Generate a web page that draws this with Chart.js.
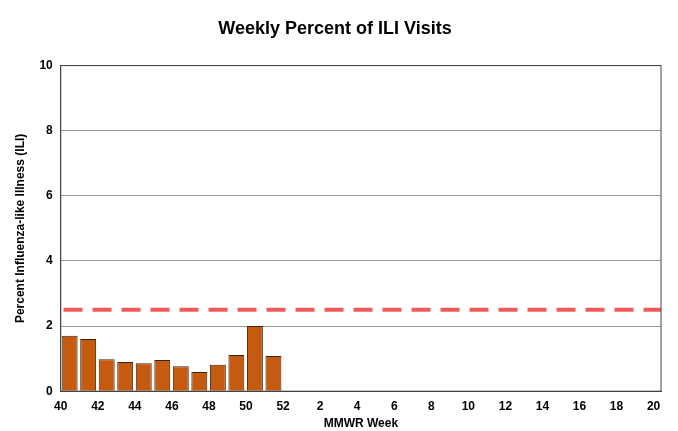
<!DOCTYPE html>
<html lang="en">
  <head>
    <meta charset="UTF-8" />
    <title>Weekly Percent of ILI Visits</title>
    <script src="https://cdn.jsdelivr.net/npm/chart.js"></script>
    <style>
      body { margin: 0; background: #fff; }
      #wrap { width: 678px; height: 431px; }
    </style>
  </head>
  <body>
    <div id="wrap"><canvas id="iliChart"></canvas></div>
    <script>
      // MMWR weeks 40-52, then 1-20
      const weeks = [40, 41, 42, 43, 44, 45, 46, 47, 48, 49, 50, 51, 52,
        1, 2, 3, 4, 5, 6, 7, 8, 9, 10, 11, 12, 13, 14, 15, 16, 17, 18, 19, 20];
      const iliPercent = [1.70, 1.60, 0.98, 0.90, 0.86, 0.96, 0.77, 0.59, 0.81, 1.11, 2.00, 1.08];
      const baseline = 2.5;

      const barPoints = iliPercent.map((v, i) => ({ x: i + 0.48, y: v }));

      new Chart(document.getElementById("iliChart"), {
        type: "bar",
        data: {
          datasets: [
            {
              type: "line",
              data: [{ x: 0.15, y: baseline }, { x: 32.4, y: baseline }],
              borderColor: "#f05a5a",
              borderWidth: 4,
              borderDash: [19, 10],
              pointRadius: 0,
            },
            {
              data: barPoints,
              backgroundColor: "#c55a11",
              borderColor: "#3a2410",
              borderWidth: 1,
              categoryPercentage: 1,
              barPercentage: 0.86,
            },
          ],
        },
        options: {
          responsive: true,
          maintainAspectRatio: false,
          animation: false,
          layout: { padding: { top: 13, right: 17, left: 9, bottom: 0 } },
          plugins: {
            legend: { display: false },
            tooltip: { enabled: false },
            title: {
              display: true,
              text: "Weekly Percent of ILI Visits",
              color: "#000",
              font: { family: "Arial", size: 18, weight: "bold" },
              padding: { top: 5, bottom: 26 },
            },
          },
          scales: {
            x: {
              type: "linear",
              offset: false,
              min: 0,
              max: 32.4,
              grid: { display: false, drawTicks: true, tickLength: 5 },
              border: { color: "#444", width: 1 },
              afterBuildTicks: (axis) => {
                axis.ticks = [];
                for (let i = 0; i <= 32; i += 2) axis.ticks.push({ value: i });
              },
              ticks: {
                color: "#000",
                maxRotation: 0,
                autoSkip: false,
                font: { family: "Arial", size: 12, weight: "bold" },
                callback: (v) => weeks[v],
              },
              title: {
                display: true,
                text: "MMWR Week",
                color: "#000",
                padding: 0,
                font: { family: "Arial", size: 12, weight: "bold" },
              },
            },
            y: {
              min: 0,
              max: 10,
              ticks: {
                stepSize: 2,
                color: "#000",
                padding: 8,
                font: { family: "Arial", size: 12, weight: "bold" },
              },
              grid: { color: "#999", drawTicks: false },
              border: { color: "#444" },
              title: {
                display: true,
                text: "Percent Influenza-like Illness (ILI)",
                color: "#000",
                font: { family: "Arial", size: 12, weight: "bold" },
              },
            },
          },
        },
        plugins: [
          {
            id: "frame",
            afterDraw(chart) {
              const a = chart.chartArea, c = chart.ctx;
              c.save();
              c.strokeStyle = "#444";
              c.lineWidth = 1;
              c.strokeRect(a.left, a.top, a.right - a.left, a.bottom - a.top);
              c.restore();
            },
          },
        ],
      });
    </script>
  </body>
</html>
